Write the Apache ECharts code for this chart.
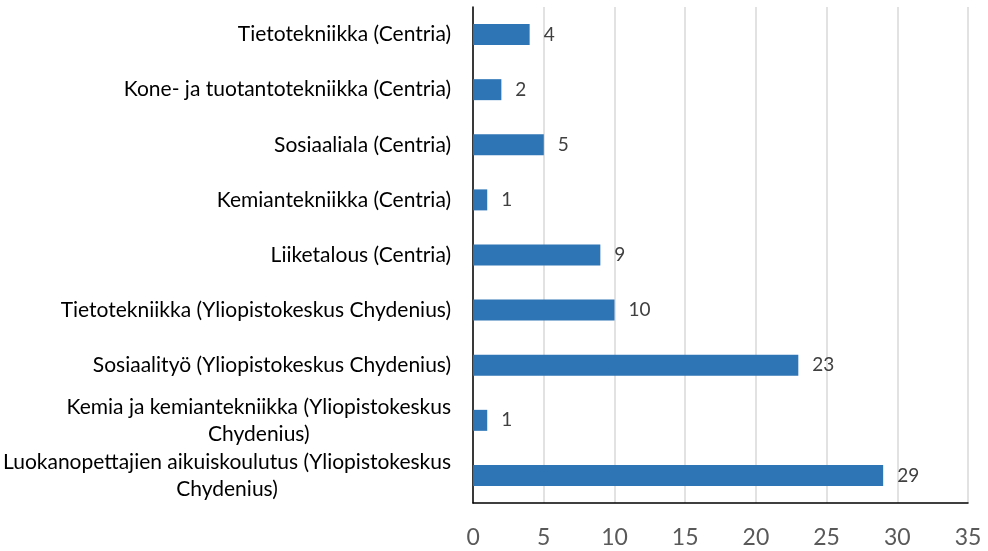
<!DOCTYPE html>
<html>
<head>
<meta charset="utf-8">
<script src="https://cdn.jsdelivr.net/npm/echarts@6/dist/echarts.min.js"></script>
<style>html,body{margin:0;padding:0;background:#fff;}#chart{width:988px;height:551px;}</style>
</head>
<body>
<div id="chart"></div>
<script>
const categories = [
  "Tietotekniikka (Centria)",
  "Kone- ja tuotantotekniikka (Centria)",
  "Sosiaaliala (Centria)",
  "Kemiantekniikka (Centria)",
  "Liiketalous (Centria)",
  "Tietotekniikka (Yliopistokeskus Chydenius)",
  "Sosiaalityö (Yliopistokeskus Chydenius)",
  "Kemia ja kemiantekniikka (Yliopistokeskus Chydenius)",
  "Luokanopettajien aikuiskoulutus (Yliopistokeskus Chydenius)"
];
const values = [4, 2, 5, 1, 9, 10, 23, 1, 29];
const xTicks = [0, 5, 10, 15, 20, 25, 30, 35];

const chart = echarts.init(document.getElementById('chart'));
const font = 'Lato, "Open Sans", sans-serif';
chart.setOption({
  animation: false,
  grid: { left: 473, right: 20, top: 7, bottom: 48, containLabel: false },
  xAxis: {
    type: 'value',
    min: xTicks[0],
    max: xTicks[xTicks.length - 1],
    interval: 5,
    axisLine: { show: true, lineStyle: { color: '#000', width: 1.5 } },
    axisTick: { show: false },
    splitLine: { show: true, lineStyle: { color: '#D9D9D9', width: 1.5 } },
    axisLabel: { color: '#595959', fontSize: 23, fontFamily: font, margin: 23 }
  },
  yAxis: {
    type: 'category',
    inverse: true,
    data: categories,
    axisLine: { show: true, lineStyle: { color: '#000', width: 1.5 } },
    axisTick: { show: false },
    axisLabel: {
      margin: 22,
      color: '#000',
      fontSize: 21,
      fontFamily: font,
      lineHeight: 27,
      formatter: function (v) {
        const lines = v.length > 45 ? v.replace(' Chydenius)', '\nChydenius)').split('\n') : [v];
        return lines.map(l => '{c|' + l + '}').join('\n');
      },
      rich: { c: { align: 'center', fontSize: 21, fontFamily: font, color: '#000', lineHeight: 27 } }
    }
  },
  series: [{
    type: 'bar',
    data: values,
    barWidth: 21,
    itemStyle: { color: '#2E75B6' },
    label: { show: true, position: 'right', distance: 14, color: '#404040', fontSize: 19, fontFamily: font }
  }]
});
</script>
</body>
</html>
